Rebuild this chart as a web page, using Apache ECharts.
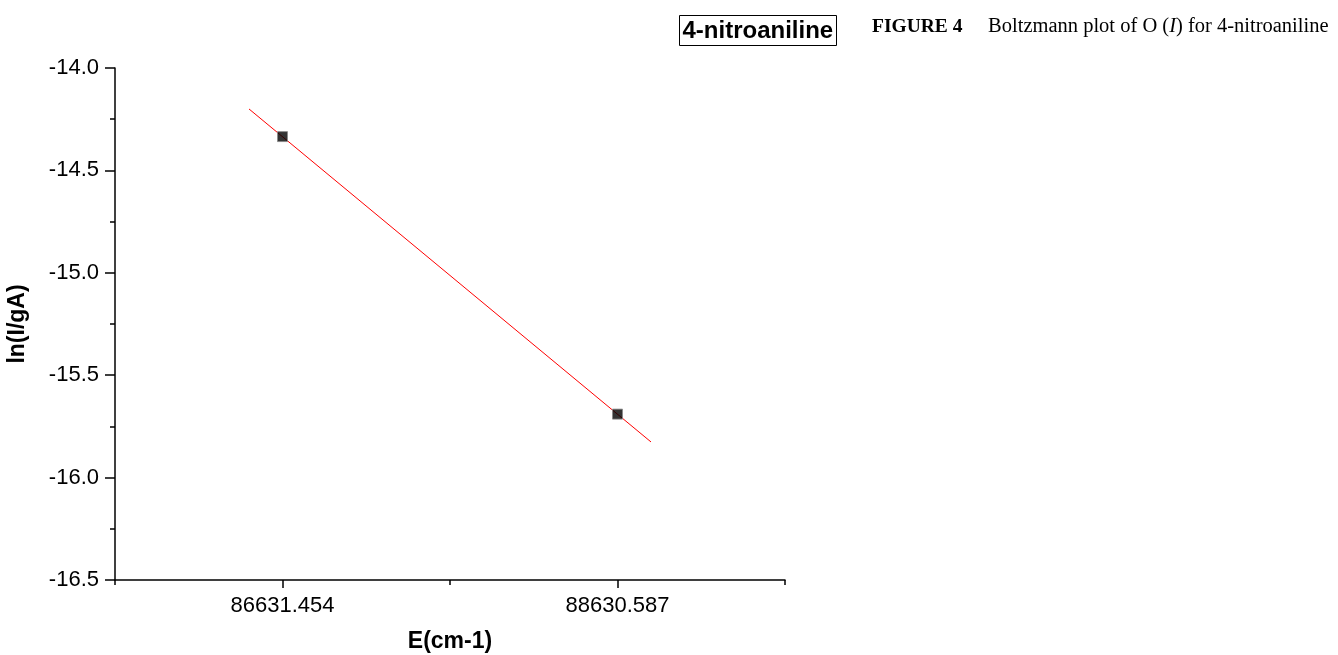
<!DOCTYPE html>
<html>
<head>
<meta charset="utf-8">
<script src="https://cdn.jsdelivr.net/npm/echarts@6/dist/echarts.min.js"></script>
<style>
  html, body { margin: 0; padding: 0; background: #ffffff; }
  #chart { width: 1338px; height: 655px; }
</style>
</head>
<body>
<div id="chart"></div>
<script>
// Energy levels (shown as tick labels) and their positions on the x scale
const levelPositions = [1, 2];
const levelLabels = ['86631.454', '88630.587'];

// ln(I/gA) measured at each level
const lnValues = [-14.335, -15.69];

// Ends of the fitted straight line
const fitX = [0.9, 2.1];
const fitY = [-14.2, -15.826];

// Y tick values
const yMin = -16.5, yMax = -14.0, yStep = 0.5;

const pointData = levelPositions.map((x, i) => [x, lnValues[i]]);
const fitData = fitX.map((x, i) => [x, fitY[i]]);
const labelFor = {};
levelPositions.forEach((x, i) => { labelFor[x] = levelLabels[i]; });

const chart = echarts.init(document.getElementById('chart'), null, { renderer: 'canvas' });

const sans = 'Liberation Sans, Arial, sans-serif';
const serif = 'Liberation Serif, Times New Roman, serif';
const axisFont = { fontFamily: sans, fontSize: 22, color: '#000' };
const titleFont = { fontFamily: sans, fontSize: 23, fontWeight: 'bold', color: '#000' };

chart.setOption({
  animation: false,
  backgroundColor: '#ffffff',
  grid: { left: 115, right: 553, top: 68, bottom: 75, containLabel: false, outerBoundsMode: 'none' },
  xAxis: [
    {
      type: 'value', min: 0.5, max: 2.5,
      axisLine: { show: true, onZero: false, lineStyle: { color: '#000', width: 1.5 } },
      axisTick: { show: true, inside: false, length: 8, customValues: levelPositions, lineStyle: { color: '#000', width: 1.5 } },
      axisLabel: { show: true, customValues: levelPositions, margin: 15, formatter: v => labelFor[v] || '', ...axisFont },
      splitLine: { show: false },
      name: 'E(cm-1)', nameLocation: 'middle', nameGap: 50,
      nameTextStyle: titleFont
    },
    {
      // secondary ticks half-way between levels
      type: 'value', min: 0.5, max: 2.5, position: 'bottom',
      axisLine: { show: false },
      axisTick: { show: true, inside: false, length: 5, customValues: [0.5, 1.5, 2.5], lineStyle: { color: '#000', width: 1.5 } },
      axisLabel: { show: false },
      splitLine: { show: false }
    }
  ],
  yAxis: {
    type: 'value', min: yMin, max: yMax, interval: yStep,
    axisLine: { show: true, onZero: false, lineStyle: { color: '#000', width: 1.5 } },
    axisTick: { show: true, inside: false, length: 10, lineStyle: { color: '#000', width: 1.5 } },
    minorTick: { show: true, splitNumber: 2, length: 5, lineStyle: { color: '#000', width: 1.5 } },
    axisLabel: { margin: 16, formatter: v => v.toFixed(1), ...axisFont },
    splitLine: { show: false },
    name: 'ln(I/gA)', nameLocation: 'middle', nameGap: 86, nameRotate: 90,
    nameTextStyle: titleFont
  },
  series: [
    {
      type: 'line', data: fitData, symbol: 'none', silent: true,
      lineStyle: { color: '#ff0000', width: 1 }, z: 2
    },
    {
      type: 'scatter', data: pointData, symbol: 'rect', symbolSize: 10,
      itemStyle: { color: '#000', borderColor: '#888', borderWidth: 1 }, z: 3
    }
  ],
  graphic: [
    {
      type: 'group', left: 679, top: 15,
      children: [
        { type: 'rect', shape: { x: 0, y: 0, width: 157, height: 30 },
          style: { fill: '#fff', stroke: '#000', lineWidth: 1 } },
        { type: 'text', x: 3, y: 16,
          style: { text: '4-nitroaniline', fontFamily: sans, fontSize: 24, fontWeight: 'bold', fill: '#000', verticalAlign: 'middle' } }
      ]
    },
    {
      type: 'text', left: 872, top: 16,
      style: {
        text: '{b|FIGURE 4}{n|     Boltzmann plot of O (}{i|I}{n|) for 4-nitroaniline}',
        rich: {
          b: { fontFamily: serif, fontSize: 19.5, fontWeight: 'bold', fill: '#000' },
          n: { fontFamily: serif, fontSize: 20.5, fill: '#000' },
          i: { fontFamily: serif, fontSize: 20.5, fontStyle: 'italic', fill: '#000' }
        }
      }
    }
  ]
});
</script>
</body>
</html>
